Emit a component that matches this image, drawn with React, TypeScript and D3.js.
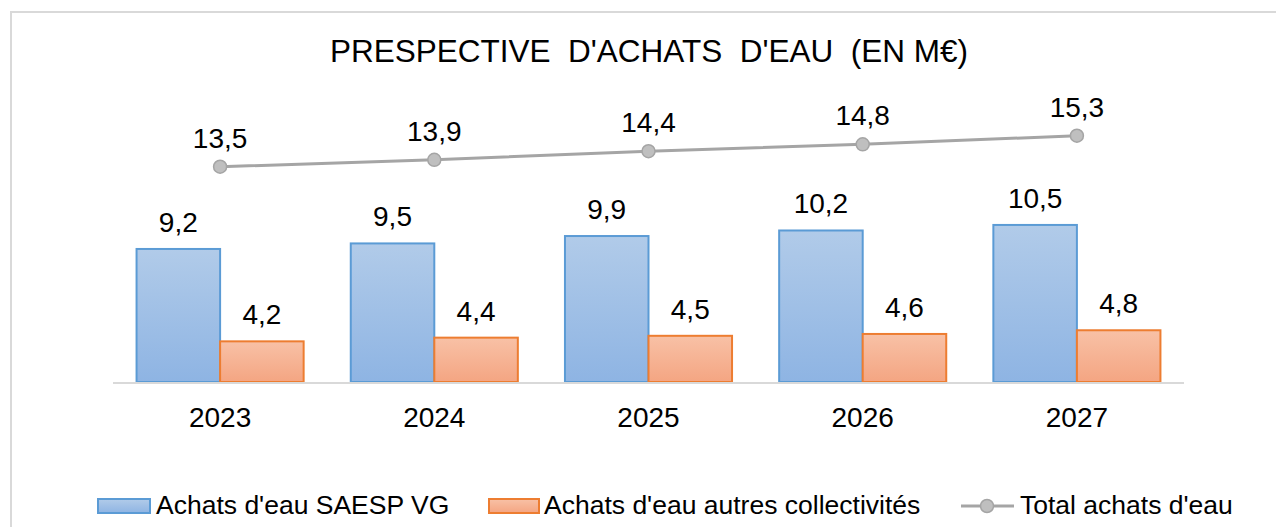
import * as d3 from "d3";

const years = ["2023", "2024", "2025", "2026", "2027"];
const saespVG = [9.2, 9.5, 9.9, 10.2, 10.5];
const autresCollectivites = [4.2, 4.4, 4.5, 4.6, 4.8];
const totalAchats = [13.5, 13.9, 14.4, 14.8, 15.3];
const seriesNames = [
  "Achats d'eau SAESP VG",
  "Achats d'eau autres collectivités",
  "Total achats d'eau",
];
const title = "PRESPECTIVE  D'ACHATS  D'EAU  (EN M€)";

const W = 1276;
const H = 527;
const plot = { left: 113, right: 1184, top: 103, bottom: 382 };
const font = "'Liberation Sans', Arial, sans-serif";

const fmt = (v: number) => d3.format(".1f")(v).replace(".", ",");

export default function App() {
  const x0 = d3
    .scaleBand()
    .domain(years)
    .range([plot.left, plot.right])
    .paddingInner(0.22)
    .paddingOuter(0.11);
  const x1 = d3
    .scaleBand()
    .domain(["a", "b"])
    .range([0, x0.bandwidth()]);
  // primary axis (bars) doesn't start at zero
  const yBar = d3.scaleLinear().domain([2, 17.1]).range([plot.bottom, plot.top]);
  // secondary axis for the total line
  const yLine = d3
    .scaleLinear()
    .domain([1, 17.2])
    .range([plot.bottom, plot.top]);

  const cx = (y: string) => x0(y)! + x0.bandwidth() / 2;
  const linePath = d3
    .line<number>()
    .x((_, i) => cx(years[i]))
    .y((d) => yLine(d))(totalAchats)!;

  const bars = [
    { key: "a", values: saespVG, fill: "url(#gBlue)", stroke: "#5b9bd5" },
    {
      key: "b",
      values: autresCollectivites,
      fill: "url(#gOrange)",
      stroke: "#ed7d31",
    },
  ];

  return (
    <div style={{ position: "absolute", left: 0, top: 0 }}>
      <svg width={W} height={H} style={{ display: "block", fontFamily: font }}>
        <defs>
          <linearGradient id="gBlue" x1="0" y1="0" x2="0" y2="1">
            <stop offset="0" stopColor="#b1cbe9" />
            <stop offset="1" stopColor="#8eb4e3" />
          </linearGradient>
          <linearGradient id="gOrange" x1="0" y1="0" x2="0" y2="1">
            <stop offset="0" stopColor="#f8c1a6" />
            <stop offset="1" stopColor="#f4a582" />
          </linearGradient>
        </defs>
        <rect width={W} height={H} fill="#fff" />
        <rect
          x={11}
          y={12}
          width={W + 20}
          height={H + 20}
          fill="none"
          stroke="#d9d9d9"
          strokeWidth={2}
        />

        <text
          x={649}
          y={62}
          textAnchor="middle"
          fontSize={31.5}
          fill="#000"
          style={{ whiteSpace: "pre" }}
        >
          {title}
        </text>

        {bars.map((s) =>
          years.map((yr, i) => {
            const bx = x0(yr)! + x1(s.key)!;
            const top = yBar(s.values[i]);
            return (
              <g key={s.key + yr}>
                <rect
                  x={bx}
                  y={top}
                  width={x1.bandwidth()}
                  height={plot.bottom - top}
                  fill={s.fill}
                  stroke={s.stroke}
                  strokeWidth={2}
                />
                <text
                  x={bx + x1.bandwidth() / 2}
                  y={top - 17}
                  textAnchor="middle"
                  fontSize={28}
                  fill="#000"
                >
                  {fmt(s.values[i])}
                </text>
              </g>
            );
          })
        )}

        <line
          x1={plot.left}
          x2={plot.right}
          y1={plot.bottom + 1}
          y2={plot.bottom + 1}
          stroke="#d9d9d9"
          strokeWidth={2}
        />

        <path d={linePath} fill="none" stroke="#a5a5a5" strokeWidth={3} />
        {totalAchats.map((v, i) => (
          <g key={"t" + i}>
            <circle
              cx={cx(years[i])}
              cy={yLine(v)}
              r={6.5}
              fill="#bfbfbf"
              stroke="#a5a5a5"
              strokeWidth={1.5}
            />
            <text
              x={cx(years[i])}
              y={yLine(v) - 19}
              textAnchor="middle"
              fontSize={28}
              fill="#000"
            >
              {fmt(v)}
            </text>
          </g>
        ))}

        {years.map((yr) => (
          <text
            key={"x" + yr}
            x={cx(yr)}
            y={427}
            textAnchor="middle"
            fontSize={28}
            fill="#000"
          >
            {yr}
          </text>
        ))}

        {/* legend */}
        <g fontSize={26.5} fill="#000">
          <rect x={98} y={499} width={52} height={14} fill="url(#gBlue)" stroke="#5b9bd5" strokeWidth={2} />
          <text x={156} y={514}>{seriesNames[0]}</text>
          <rect x={489} y={499} width={50} height={14} fill="url(#gOrange)" stroke="#ed7d31" strokeWidth={2} />
          <text x={544} y={514}>{seriesNames[1]}</text>
          <line x1={961} x2={1014} y1={506} y2={506} stroke="#a5a5a5" strokeWidth={3} />
          <circle cx={987} cy={506} r={6.5} fill="#bfbfbf" stroke="#a5a5a5" strokeWidth={1.5} />
          <text x={1020} y={514}>{seriesNames[2]}</text>
        </g>
      </svg>
    </div>
  );
}
